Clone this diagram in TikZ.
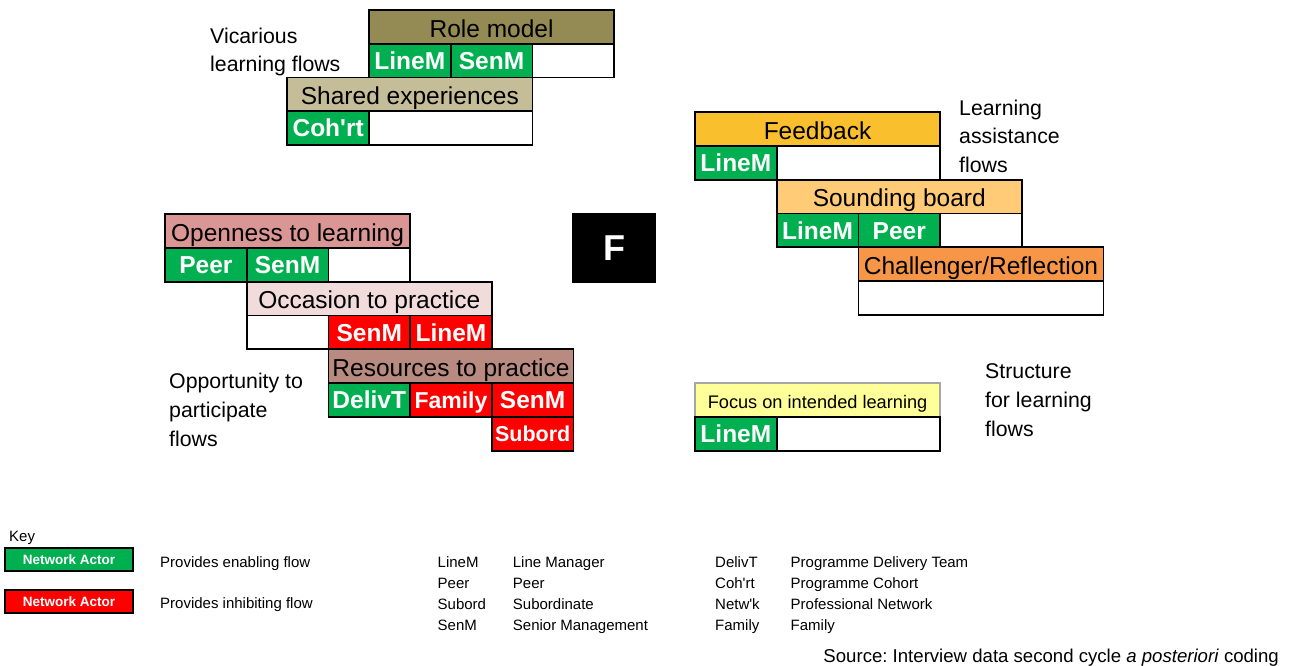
\documentclass[tikz,border=0pt]{standalone}
\usepackage{fontspec}
\setmainfont{Liberation Sans}[Ligatures=TeXOff]
\frenchspacing

% colours of the flow headers and actor cells
\definecolor{cGreen}{HTML}{00B050}
\definecolor{cRed}{HTML}{FF0000}
\definecolor{cRole}{HTML}{948A54}
\definecolor{cShared}{HTML}{C4BD97}
\definecolor{cOpen}{HTML}{D99694}
\definecolor{cOccasion}{HTML}{F2DCDB}
\definecolor{cResource}{HTML}{B98A80}
\definecolor{cFeedback}{HTML}{F9BF2C}
\definecolor{cSounding}{HTML}{FFCB77}
\definecolor{cChallenge}{HTML}{F79646}
\definecolor{cFocus}{HTML}{FFFF99}

\newcommand\hdrfont{\fontsize{24.5}{28}\selectfont}
\newcommand\cellfont{\fontsize{24.5}{28}\selectfont\bfseries}
\newcommand\sidefont{\fontsize{21.3}{28.8}\selectfont}
\newcommand\keyfont{\fontsize{15}{18}\selectfont}

\tikzset{
  hdr/.style={draw=black, line width=1.8pt, minimum width=245.1pt, minimum height=33.8pt,
    anchor=north west, inner sep=0pt, outer sep=0pt, font=\hdrfont,
    text height=20.5pt, text depth=0pt},
  cellbox/.style={draw=black, line width=1.8pt, minimum width=81.7pt, minimum height=33.8pt,
    anchor=north west, inner sep=0pt, outer sep=0pt, font=\cellfont, text=white,
    text height=17.4pt, text depth=0pt},
  enab/.style={cellbox, fill=cGreen},
  inhib/.style={cellbox, fill=cRed},
  empty/.style={cellbox, fill=white},
  wide/.style={minimum width=163.4pt},
  side/.style={anchor=base west, align=left, inner sep=0pt, font=\sidefont},
  keytext/.style={anchor=base west, inner sep=0pt, font=\keyfont},
  keybox/.style={draw=black, line width=2pt, minimum width=128pt, minimum height=22.5pt,
    anchor=north west, inner sep=0pt, outer sep=0pt, text=white,
    font=\fontsize{13.5}{16}\selectfont\bfseries, text height=10pt, text depth=0pt},
}

\begin{document}
\begin{tikzpicture}[x=1pt, y=-1pt]
\useasboundingbox (0,0) rectangle (1290,666);

% ---- Vicarious learning flows ----
\node[side] (vicLabel) at (210,72) {Vicarious\\learning flows};
\node[hdr, fill=cRole] (role) at (369,10) {Role model};
\node[enab]  (role1) at (369,43.8) {LineM};
\node[enab]  (role2) at (450.7,43.8) {SenM};
\node[empty] (role3) at (532.4,43.8) {};
\node[hdr, fill=cShared] (shared) at (287.3,77.6) {Shared experiences};
\node[enab]  (shared1) at (287.3,111.4) {Coh'rt};
\node[empty, wide] (shared2) at (369,111.4) {};

% ---- Opportunity to participate flows ----
\node[hdr, fill=cOpen] (open) at (165,214) {Openness to learning};
\node[enab]  (open1) at (165,247.8) {Peer};
\node[enab]  (open2) at (246.7,247.8) {SenM};
\node[empty] (open3) at (328.4,247.8) {};
\node[hdr, fill=cOccasion] (occ) at (246.7,281.6) {Occasion to practice};
\node[empty] (occ1) at (246.7,315.4) {};
\node[inhib] (occ2) at (328.4,315.4) {SenM};
\node[inhib] (occ3) at (410.1,315.4) {LineM};
\node[hdr, fill=cResource] (res) at (328.4,349.2) {Resources to practice};
\node[enab]  (res1) at (328.4,383) {DelivT};
\node[inhib, font=\fontsize{23}{28}\selectfont\bfseries] (res2) at (410.1,383) {Family};
\node[inhib] (res3) at (491.8,383) {SenM};
\node[inhib, font=\fontsize{21.5}{28}\selectfont\bfseries, text height=15.4pt] (res4) at (491.8,416.8) {Subord};
\node[side] (oppLabel) at (169,446) {Opportunity to\\participate\\flows};

% ---- Centre marker ----
\node[fill=black, minimum width=84.3pt, minimum height=70pt, anchor=north west,
  inner sep=0pt, text=white, font=\fontsize{36}{40}\selectfont\bfseries,
  text height=26pt, text depth=0pt] (F) at (571.7,212.7) {F};

% ---- Learning assistance flows ----
\node[side] (assistLabel) at (959,172.7) {Learning\\assistance\\flows};
\node[hdr, fill=cFeedback] (feed) at (695,112) {Feedback};
\node[enab]  (feed1) at (695,145.8) {LineM};
\node[empty, wide] (feed2) at (776.7,145.8) {};
\node[hdr, fill=cSounding] (sound) at (776.7,179.6) {Sounding board};
\node[enab]  (sound1) at (776.7,213.4) {LineM};
\node[enab]  (sound2) at (858.4,213.4) {Peer};
\node[empty] (sound3) at (940.1,213.4) {};
\node[hdr, fill=cChallenge] (chal) at (858.4,247.2) {Challenger/Reflection};
\node[empty, minimum width=245.1pt] (chal1) at (858.4,281) {};

% ---- Structure for learning flows ----
\node[hdr, fill=cFocus, draw=black!35, font=\fontsize{18.2}{22}\selectfont,
  text height=18pt] (focus) at (695,383) {Focus on intended learning};
\node[enab]  (focus1) at (695,416.8) {LineM};
\node[empty, wide] (focus2) at (776.7,416.8) {};
\draw[line width=1.8pt] (focus.south west) -- (focus.south east);
\node[side] (structLabel) at (985,436) {Structure\\for learning\\flows};

% ---- Key ----
\node[keytext] (keyTitle) at (9,541) {Key};
\node[keybox, fill=cGreen] (keyGreen) at (5,548) {Network Actor};
\node[keybox, fill=cRed] (keyRed) at (5,590.3) {Network Actor};
\node[keytext] (keyEnab) at (160,567) {Provides enabling flow};
\node[keytext] (keyInhib) at (160,608) {Provides inhibiting flow};

\node[keytext] (abA1) at (437.5,567.5) {LineM};
\node[keytext] (abA2) at (437.5,588.5) {Peer};
\node[keytext] (abA3) at (437.5,609.5) {Subord};
\node[keytext] (abA4) at (437.5,630.5) {SenM};
\node[keytext] (abB1) at (512.7,567.5) {Line Manager};
\node[keytext] (abB2) at (512.7,588.5) {Peer};
\node[keytext] (abB3) at (512.7,609.5) {Subordinate};
\node[keytext] (abB4) at (512.7,630.5) {Senior Management};

\node[keytext] (abC1) at (715,567.5) {DelivT};
\node[keytext] (abC2) at (715,588.5) {Coh'rt};
\node[keytext] (abC3) at (715,609.5) {Netw'k};
\node[keytext] (abC4) at (715,630.5) {Family};
\node[keytext] (abD1) at (790.5,567.5) {Programme Delivery Team};
\node[keytext] (abD2) at (790.5,588.5) {Programme Cohort};
\node[keytext] (abD3) at (790.5,609.5) {Professional Network};
\node[keytext] (abD4) at (790.5,630.5) {Family};

\node[anchor=base east, inner sep=0pt, font=\fontsize{18.6}{22}\selectfont] (source) at (1279,662.5)
  {Source: Interview data second cycle \textit{a posteriori} coding};
\end{tikzpicture}
\end{document}
